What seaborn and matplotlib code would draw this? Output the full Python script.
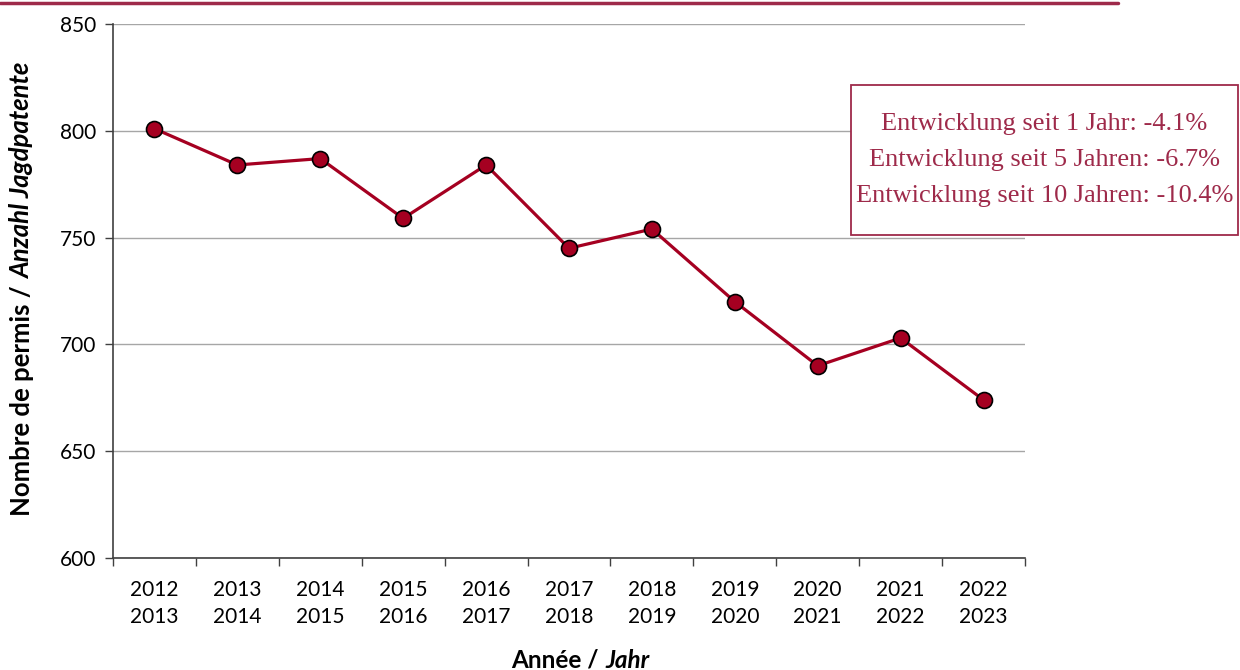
import matplotlib
matplotlib.use("Agg")
import matplotlib.pyplot as plt
import seaborn as sns
import pandas as pd
import numpy as np
from matplotlib.lines import Line2D
from matplotlib.patches import Rectangle

# ---- data ----
seasons = ["2012\n2013", "2013\n2014", "2014\n2015", "2015\n2016", "2016\n2017",
           "2017\n2018", "2018\n2019", "2019\n2020", "2020\n2021", "2021\n2022",
           "2022\n2023"]
permits = [801, 784, 787, 759, 784, 745, 754, 720, 690, 703, 674]
y_ticks = [600, 650, 700, 750, 800, 850]
box_lines = ["Entwicklung seit 1 Jahr: -4.1%",
             "Entwicklung seit 5 Jahren: -6.7%",
             "Entwicklung seit 10 Jahren: -10.4%"]

sns.set_theme(style="white")
plt.rcParams['font.family'] = ['Lato', 'DejaVu Sans']
plt.rcParams['text.color'] = 'black'
plt.rcParams['xtick.color'] = 'black'
plt.rcParams['ytick.color'] = 'black'
plt.rcParams['xtick.labelcolor'] = 'black'
plt.rcParams['ytick.labelcolor'] = 'black'

LINE = "#a50021"
ACCENT = "#9e2a4a"

fig = plt.figure(figsize=(12.4, 6.7), dpi=100)
W, H = 1240, 670
ax = fig.add_axes([113 / W, 1 - 558 / H, (1025 - 113) / W, (558 - 24) / H])

df = pd.DataFrame({"x": np.arange(len(seasons)), "y": permits})
sns.lineplot(data=df, x="x", y="y", ax=ax, color=LINE, linewidth=2.3,
             marker="o", markersize=11.5, markerfacecolor=LINE,
             markeredgecolor="black", markeredgewidth=1.2, zorder=3)

ax.set_xlim(-0.5, len(seasons) - 0.5)
ax.set_ylim(600, 850)
ax.set_yticks(y_ticks)
ax.set_yticklabels([str(v) for v in y_ticks], fontsize=15, color="black")
ax.set_xticks(np.arange(len(seasons) + 1) - 0.5)
ax.set_xticklabels([])
ax.set_xticks(np.arange(len(seasons)), minor=True)
ax.set_xticklabels(seasons, minor=True, fontsize=15, linespacing=1.45,
                   color="black")
ax.tick_params(axis="x", which="major", direction="out", length=6, width=1,
               color="#404040", bottom=True)
ax.tick_params(axis="x", which="minor", length=0, pad=16)
ax.tick_params(axis="y", direction="out", length=6, width=1, color="#404040",
               left=True, pad=6)

ax.yaxis.grid(True, color="#a6a6a6", linewidth=1)
ax.xaxis.grid(False)
ax.set_axisbelow(True)
for s in ["top", "right"]:
    ax.spines[s].set_visible(False)
for s in ["left", "bottom"]:
    ax.spines[s].set_color("#404040")
    ax.spines[s].set_linewidth(1.2)
ax.set_xlabel("")
ax.set_ylabel("")

# axis titles with mixed styles
tx1 = fig.text(605 / W, 1 - 660 / H, "Année / ", fontsize=17.5, fontweight="bold",
               ha="right", va="center", color="black")
ax.annotate("Jahr", xy=(1, 0.5), xycoords=tx1, fontsize=17.5, fontweight="bold",
            fontstyle="italic", ha="left", va="center", color="black")

ty1 = fig.text(22 / W, 1 - 516 / H, "Nombre de permis / ", fontsize=18.5,
               fontweight="bold", rotation=90, ha="center", va="bottom",
               color="black")
ax.annotate("Anzahl Jagdpatente", xy=(0.5, 1), xycoords=ty1, fontsize=18.5,
            fontweight="bold", fontstyle="italic", rotation=90,
            ha="center", va="bottom", color="black")

# top decorative line
fig.add_artist(Line2D([0, 1118 / W], [1 - 3 / H, 1 - 3 / H], color=ACCENT,
                      linewidth=2.5, transform=fig.transFigure))

# info box
bx0, by0, bx1, by1 = 851, 85, 1238, 235
fig.add_artist(Rectangle((bx0 / W, 1 - by1 / H), (bx1 - bx0) / W, (by1 - by0) / H,
                         transform=fig.transFigure, facecolor="white",
                         edgecolor=ACCENT, linewidth=1.3, zorder=5))
for i, line in enumerate(box_lines):
    fig.text((bx0 + bx1) / 2 / W, 1 - (124 + 36 * i) / H, line,
             family=["Liberation Serif", "DejaVu Serif"], fontsize=19,
             color=ACCENT, ha="center", va="center", zorder=6)

fig.savefig("out.png", dpi=100)
